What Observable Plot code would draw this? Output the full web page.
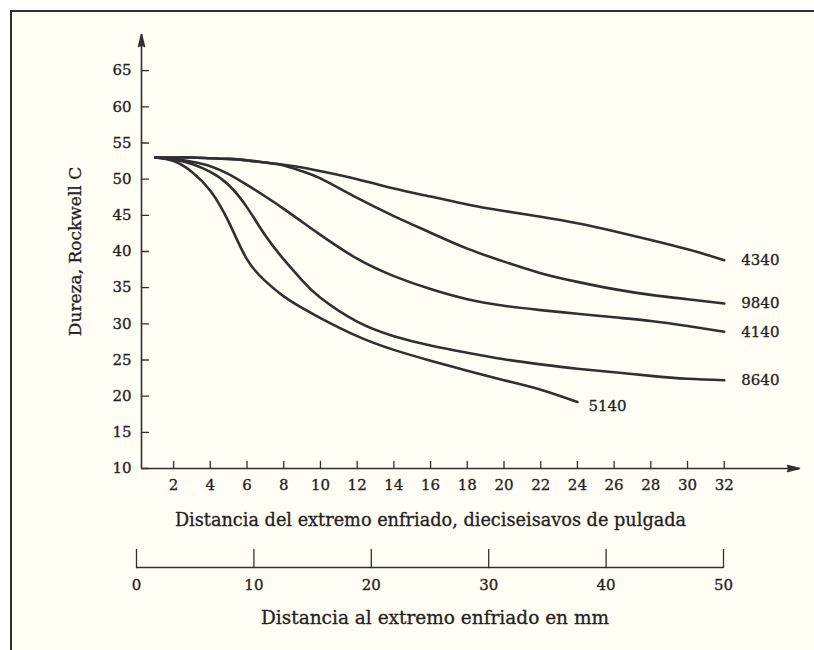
<!DOCTYPE html>
<html>
<head>
<meta charset="utf-8">
<script src="https://cdn.jsdelivr.net/npm/d3@7"></script>
<script src="https://cdn.jsdelivr.net/npm/@observablehq/plot@0.6"></script>
<style>
  html, body { margin: 0; padding: 0; background: #ffffff; overflow: hidden; }
  #page { position: relative; width: 814px; height: 650px; overflow: hidden; background: #ffffff; }
  #sheet { position: absolute; left: 10px; top: 10px; width: 804px; height: 640px; background: #fffdf4; }
  #edgeLeft { position: absolute; left: 10px; top: 10px; width: 2px; height: 640px; background: #303030; }
  #edgeTop { position: absolute; left: 10px; top: 10px; width: 804px; height: 2px; background: #303030; }
  #chart { position: absolute; left: 0; top: 0; line-height: 0; }
  #ruler { position: absolute; left: 0; top: 545px; line-height: 0; }
  svg { overflow: visible; display: block; }
  #page svg text { stroke: #222222; stroke-width: 0.3px; }
</style>
</head>
<body>
<div id="page">
  <div id="sheet"></div>
  <div id="edgeLeft"></div>
  <div id="edgeTop"></div>
  <div id="chart"></div>
  <div id="ruler"></div>
</div>
<script>
// Jominy end-quench hardenability curves for five steels.
// Distance from the quenched end in sixteenths of an inch.
const distance = [1, 2, 3, 4, 5, 6, 7, 8, 9, 10, 12, 14, 16, 18, 20, 22, 24, 26, 28, 30, 32];

// Hardness, Rockwell C, at each distance above.
const hrc4340 = [53, 53, 53, 52.9, 52.8, 52.6, 52.3, 52.0, 51.6, 51.1, 50.0, 48.7, 47.6, 46.5, 45.6, 44.8, 43.9, 42.8, 41.6, 40.3, 38.8];
const hrc9840 = [53, 53, 53, 52.9, 52.8, 52.6, 52.3, 51.9, 51.1, 50.1, 47.4, 44.9, 42.6, 40.4, 38.6, 37.0, 35.8, 34.8, 34.0, 33.4, 32.8];
const hrc4140 = [53, 52.8, 52.4, 51.8, 50.7, 49.2, 47.6, 45.9, 44.1, 42.3, 39.0, 36.6, 34.8, 33.4, 32.5, 31.9, 31.4, 30.9, 30.4, 29.7, 28.9];
const hrc8640 = [53, 52.7, 52.1, 51.0, 49.2, 46.1, 42.2, 38.9, 36.0, 33.6, 30.3, 28.3, 27.0, 26.0, 25.1, 24.4, 23.8, 23.3, 22.8, 22.4, 22.2];
const hrc5140 = [53, 52.5, 51.0, 48.4, 44.1, 38.9, 35.9, 33.8, 32.2, 30.8, 28.3, 26.4, 24.9, 23.5, 22.2, 20.9, 19.2];

const steels = ["4340", "9840", "4140", "8640", "5140"];
const hardness = [hrc4340, hrc9840, hrc4140, hrc8640, hrc5140];

// Axis ticks and titles
const xTicks = [2, 4, 6, 8, 10, 12, 14, 16, 18, 20, 22, 24, 26, 28, 30, 32];
const yTicks = [10, 15, 20, 25, 30, 35, 40, 45, 50, 55, 60, 65];
const mmTicks = [0, 10, 20, 30, 40, 50];
const xTitle = "Distancia del extremo enfriado, dieciseisavos de pulgada";
const yTitle = "Dureza, Rockwell C";
const mmTitle = "Distancia al extremo enfriado en mm";

// Axis extents (the axes end in arrowheads)
const xMin = 0.25, xAxisEnd = 36.1;
const yMin = 10, yAxisEnd = 70;

// Long table built from the arrays above
const rows = steels.flatMap((steel, i) =>
  hardness[i].map((h, j) => ({steel, distance: distance[j], hrc: h}))
);
const ends = steels.map((steel, i) => ({
  steel,
  distance: distance[hardness[i].length - 1],
  hrc: hardness[i][hardness[i].length - 1]
}));

const ink = "#303030";
const textInk = "#222222";
const font = "DejaVu Serif";
const tickShape = {draw(context, l) { context.moveTo(0, 0); context.lineTo(0, -l); }};

const chart = Plot.plot({
  width: 814,
  height: 545,
  marginLeft: 141,
  marginRight: 15,
  marginTop: 34,
  marginBottom: 77,
  x: {domain: [xMin, xAxisEnd]},
  y: {domain: [yMin, yAxisEnd]},
  style: {background: "transparent", fontFamily: font, fontSize: "15px", color: textInk},
  marks: [
    // axis lines with arrowheads
    Plot.ruleX([xMin], {y1: yMin, y2: yAxisEnd, stroke: ink, strokeWidth: 1.6}),
    Plot.ruleY([yMin], {x1: xMin, x2: xAxisEnd, stroke: ink, strokeWidth: 1.6}),
    Plot.vector([0], {x: xMin, y: yAxisEnd, rotate: 0, length: 12, r: 3, anchor: "end", shape: "spike", fill: ink, stroke: ink}),
    Plot.vector([0], {x: xAxisEnd, y: yMin, rotate: 90, length: 12, r: 3, anchor: "end", shape: "spike", fill: ink, stroke: ink}),
    // inward ticks
    Plot.vector(xTicks, {x: d => d, y: yMin, rotate: 0, length: 7, anchor: "start", shape: tickShape, stroke: ink, strokeWidth: 1.3}),
    Plot.vector(yTicks, {x: xMin, y: d => d, rotate: 90, length: 7, anchor: "start", shape: tickShape, stroke: ink, strokeWidth: 1.3}),
    // tick labels
    Plot.axisX({ticks: xTicks, tickSize: 0, tickPadding: 11, label: null}),
    Plot.axisY({ticks: yTicks, tickSize: 0, tickPadding: 10, label: null}),
    // axis titles
    Plot.text([xTitle], {frameAnchor: "bottom", dx: -40, dy: 57, text: d => d, fontSize: 17.7}),
    Plot.text([yTitle], {frameAnchor: "left", textAnchor: "middle", dx: -66, dy: 0, rotate: -90, text: d => d, fontSize: 17}),
    // hardness curves
    Plot.line(rows, {x: "distance", y: "hrc", z: "steel", curve: "natural", stroke: ink, strokeWidth: 2.6}),
    Plot.text(ends.filter(d => d.steel !== "5140"), {x: "distance", y: "hrc", text: "steel", dx: 17, textAnchor: "start", fontSize: 15}),
    Plot.text(ends.filter(d => d.steel === "5140"), {x: "distance", y: "hrc", text: "steel", dx: 11, dy: 4, textAnchor: "start", fontSize: 15})
  ]
});
document.getElementById("chart").append(chart);

// Millimetre ruler under the main axis
const ruler = Plot.plot({
  width: 814,
  height: 105,
  marginLeft: 136,
  marginRight: 91,
  marginTop: 0,
  marginBottom: 83,
  x: {domain: [0, 50]},
  y: {domain: [0, 1], axis: null},
  style: {background: "transparent", fontFamily: font, fontSize: "15px", color: textInk},
  marks: [
    Plot.ruleY([0], {x1: mmTicks[0], x2: mmTicks[mmTicks.length - 1], stroke: ink, strokeWidth: 1.6}),
    Plot.vector(mmTicks, {x: d => d, y: 0, rotate: 0, length: 18, anchor: "start", shape: tickShape, stroke: ink, strokeWidth: 1.3}),
    Plot.axisX({ticks: mmTicks, tickSize: 0, tickPadding: 12, label: null}),
    Plot.text([mmTitle], {frameAnchor: "bottom", dx: 5, dy: 56, text: d => d, fontSize: 18.5})
  ]
});
document.getElementById("ruler").append(ruler);
</script>
</body>
</html>
